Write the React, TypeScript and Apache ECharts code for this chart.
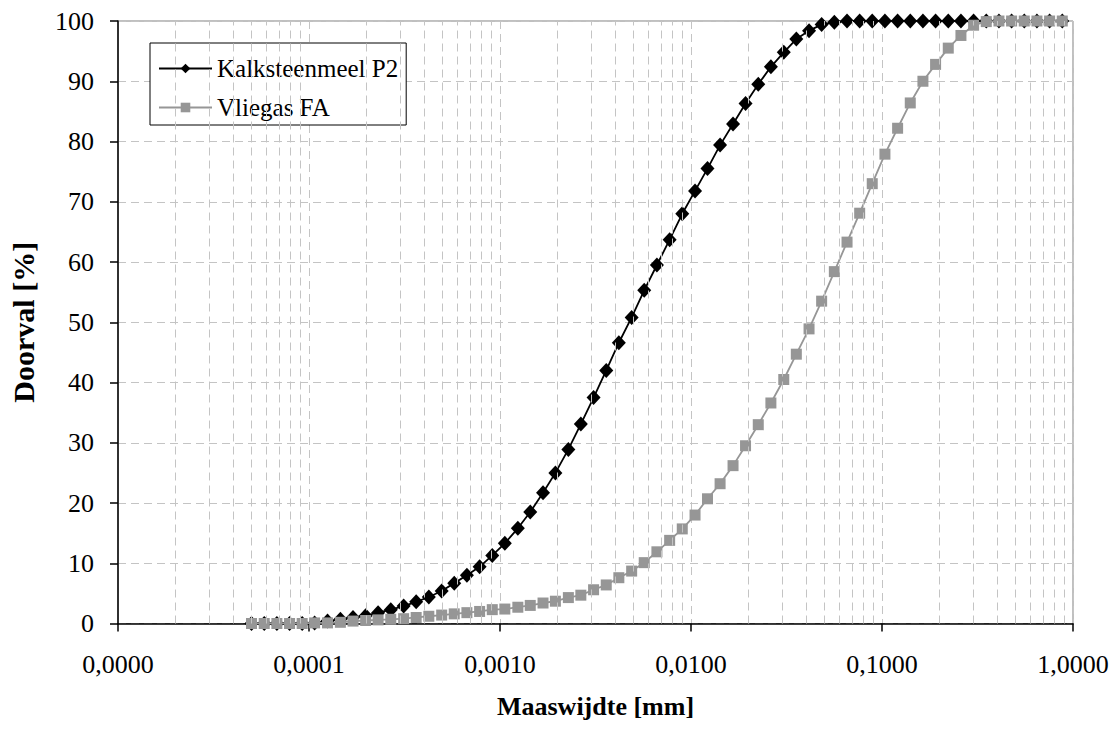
import React, { useEffect, useRef } from "react";
import * as echarts from "echarts";

// Particle size classes (mm)
const sizes: number[] = [
  0.00005, 0.0000583, 0.0000679, 0.0000791, 0.0000921, 0.000107, 0.000125, 0.000146, 0.00017, 0.000198,
  0.00023, 0.000268, 0.000313, 0.000364, 0.000424, 0.000495, 0.000576, 0.000671, 0.000782, 0.000911,
  0.00106, 0.00124, 0.00144, 0.00168, 0.00195, 0.00228, 0.00265, 0.00309, 0.0036, 0.00419,
  0.00489, 0.00569, 0.00663, 0.00773, 0.009, 0.0105, 0.0122, 0.0142, 0.0166, 0.0193,
  0.0225, 0.0262, 0.0306, 0.0356, 0.0415, 0.0483, 0.0563, 0.0656, 0.0764, 0.0889,
  0.1036, 0.1207, 0.1406, 0.1638, 0.1908, 0.2223, 0.259, 0.3017, 0.3515, 0.4095,
  0.477, 0.5557, 0.6474, 0.7542, 0.8787,
];

const kalksteenmeel: number[] = [
  0, 0, 0, 0, 0, 0.1, 0.4, 0.7, 1.0, 1.3,
  1.8, 2.3, 2.9, 3.6, 4.4, 5.4, 6.7, 8.0, 9.4, 11.3,
  13.3, 15.8, 18.5, 21.7, 25.0, 28.9, 33.1, 37.5, 42.0, 46.6,
  50.8, 55.3, 59.5, 63.7, 68.0, 71.8, 75.5, 79.4, 82.9, 86.3,
  89.5, 92.4, 94.8, 97.0, 98.4, 99.4, 99.8, 100, 100, 100,
  100, 100, 100, 100, 100, 100, 100, 100, 100, 100,
  100, 100, 100, 100, 100,
];

const vliegas: number[] = [
  0, 0, 0, 0, 0, 0.1, 0.1, 0.2, 0.4, 0.5,
  0.6, 0.7, 0.8, 1.0, 1.2, 1.4, 1.6, 1.8, 2.0, 2.3,
  2.4, 2.7, 3.0, 3.4, 3.7, 4.3, 4.7, 5.6, 6.4, 7.6,
  8.7, 10.1, 11.9, 13.8, 15.7, 18.0, 20.7, 23.2, 26.2, 29.5,
  33.0, 36.6, 40.5, 44.7, 48.9, 53.5, 58.4, 63.3, 68.1, 73.0,
  77.9, 82.2, 86.4, 90.0, 92.8, 95.5, 97.6, 99.3, 99.9, 100,
  100, 100, 100, 100, 100,
];

const seriesNames = ["Kalksteenmeel P2", "Vliegas FA"];
const xTitle = "Maaswijdte [mm]";
const yTitle = "Doorval [%]";
const yTicks = [0, 10, 20, 30, 40, 50, 60, 70, 80, 90, 100];
const decades = [0.00001, 0.0001, 0.001, 0.01, 0.1, 1];

const FONT = "'Liberation Serif', 'Times New Roman', serif";
const GRID = "#c4c4c4";

export default function App() {
  const ref = useRef<HTMLDivElement>(null);
  useEffect(() => {
    document.body.style.margin = "0";
    if (!ref.current) return;
    const chart = echarts.init(ref.current, undefined, { renderer: "svg" });

    const yMin = yTicks[0];
    const yMax = yTicks[yTicks.length - 1];
    const minorLines: any[] = [];
    for (let d = 0; d < decades.length - 1; d++) {
      for (let k = 2; k <= 9; k++) {
        const v = k * decades[d];
        minorLines.push([{ coord: [v, yMin] }, { coord: [v, yMax] }]);
      }
    }

    chart.setOption({
      animation: false,
      backgroundColor: "#ffffff",
      textStyle: { fontFamily: FONT },
      grid: {
        left: 117,
        right: 47,
        top: 21,
        bottom: 113.5,
        show: true,
        borderColor: "#808080",
        borderWidth: 1,
        backgroundColor: "transparent",
        containLabel: false,
      },
      legend: {
        left: 150,
        top: 43,
        orient: "vertical",
        backgroundColor: "#ffffff",
        borderColor: "#000000",
        borderWidth: 1,
        borderRadius: 0,
        padding: [13, 8, 5, 8],
        itemGap: 14,
        itemWidth: 53,
        itemHeight: 12,
        data: seriesNames,
        textStyle: { fontFamily: FONT, fontSize: 25, color: "#000" },
      },
      xAxis: {
        type: "log",
        logBase: 10,
        min: decades[0],
        max: decades[decades.length - 1],
        name: xTitle,
        nameLocation: "middle",
        nameGap: 70,
        nameTextStyle: { fontFamily: FONT, fontSize: 26, fontWeight: "bold", color: "#000" },
        axisLine: { show: true, onZero: false, lineStyle: { color: "#000", width: 1.5 } },
        axisTick: { show: true, inside: false, length: 8, lineStyle: { color: "#000", width: 1.5 } },
        axisLabel: {
          margin: 28,
          fontFamily: FONT,
          fontSize: 26,
          color: "#000",
          formatter: (v: number) => v.toFixed(4).replace(".", ","),
        },
        splitLine: { show: true, lineStyle: { color: GRID, type: [8, 5], width: 1 } },
        minorTick: { show: false },
      },
      yAxis: {
        type: "value",
        min: yMin,
        max: yMax,
        interval: 10,
        name: yTitle,
        nameLocation: "middle",
        nameGap: 80,
        nameTextStyle: { fontFamily: FONT, fontSize: 30, fontWeight: "bold", color: "#000" },
        axisLine: { show: true, lineStyle: { color: "#000", width: 1.5 } },
        axisTick: { show: true, inside: false, length: 8, lineStyle: { color: "#000", width: 1.5 } },
        axisLabel: { margin: 24, fontFamily: FONT, fontSize: 26, color: "#000" },
        splitLine: { show: true, lineStyle: { color: GRID, type: [8, 5], width: 1 } },
      },
      series: [
        {
          name: "minor-grid",
          type: "line",
          data: [],
          z: 0,
          silent: true,
          markLine: {
            silent: true,
            symbol: ["none", "none"],
            label: { show: false },
            precision: 10,
            lineStyle: { color: GRID, type: [8, 5], width: 1 },
            data: minorLines,
          },
        },
        {
          name: seriesNames[0],
          type: "line",
          data: sizes.map((s, i) => [s, kalksteenmeel[i]]),
          symbol: "diamond",
          symbolSize: [14, 15],
          lineStyle: { color: "#000", width: 1.8 },
          itemStyle: { color: "#000" },
          z: 3,
        },
        {
          name: seriesNames[1],
          type: "line",
          data: sizes.map((s, i) => [s, vliegas[i]]),
          symbol: "rect",
          symbolSize: 11,
          lineStyle: { color: "#969696", width: 1.8 },
          itemStyle: { color: "#969696" },
          z: 4,
        },
      ],
    });
    return () => chart.dispose();
  }, []);
  return <div ref={ref} style={{ width: 1120, height: 737 }} />;
}
